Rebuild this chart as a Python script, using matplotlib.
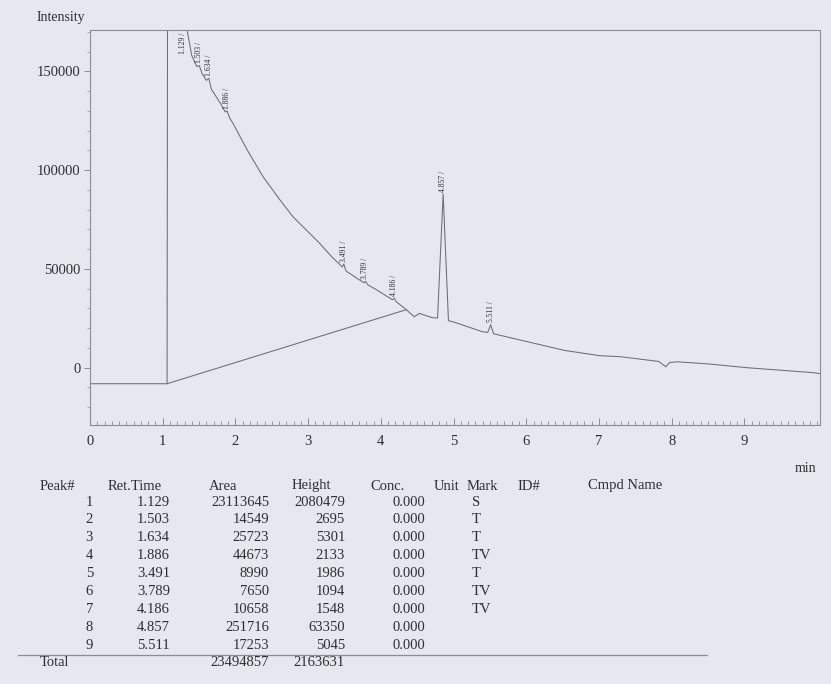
import numpy as np
import matplotlib
matplotlib.use("Agg")
import matplotlib.pyplot as plt
from matplotlib.ticker import MultipleLocator

plt.rcParams['font.family'] = ['Liberation Serif', 'DejaVu Serif']

# ---- chromatogram trace ----
sig_t = [0.00, 1.06, 1.129, 1.33, 1.40, 1.47, 1.503, 1.54, 1.60, 1.634, 1.67,
         1.80, 1.86, 1.886, 1.92, 1.97, 2.16, 2.38, 2.61, 2.79, 2.97, 3.15,
         3.33, 3.40, 3.47, 3.491, 3.52, 3.70, 3.77, 3.789, 3.82, 3.94, 4.16,
         4.186, 4.21, 4.35, 4.46, 4.53, 4.71, 4.78, 4.857, 4.93, 4.99, 5.40,
         5.47, 5.511, 5.55, 6.07, 6.52, 7.01, 7.29, 7.82, 7.92, 7.97, 8.07,
         8.48, 9.04, 9.95, 10.04]
sig_y = [-8100, -8100, 2072000, 172000, 158000, 152500, 153000, 149000, 145500,
         146500, 141000, 133500, 129500, 130000, 126500, 123500, 110400, 96700,
         85100, 76500, 69900, 63300, 56000, 53500, 51000, 52500, 49000, 44600,
         43000, 43800, 42000, 39500, 34400, 35200, 33500, 29400, 25800, 27500,
         25300, 25200, 88000, 23800, 23300, 18200, 17900, 21800, 17200, 12700,
         8800, 6100, 5600, 3200, 500, 2600, 3000, 2000, 0, -2500, -3000]

# integration baseline drawn under the big front peak
base_t = [1.06, 4.35]
base_y = [-8100, 29400]

# ---- peak table ----
peak_no = [1, 2, 3, 4, 5, 6, 7, 8, 9]
ret_time = [1.129, 1.503, 1.634, 1.886, 3.491, 3.789, 4.186, 4.857, 5.511]
area = [23113645, 14549, 25723, 44673, 8990, 7650, 10658, 251716, 17253]
height = [2080479, 2695, 5301, 2133, 1986, 1094, 1548, 63350, 5045]
conc = [0.000] * 9
mark = ['S', 'T', 'T', 'TV', 'T', 'TV', 'TV', '', '']
total_area = 23494857
total_height = 2163631

x_ticks = [0, 1, 2, 3, 4, 5, 6, 7, 8, 9]
y_ticks = [0, 50000, 100000, 150000]

W, H = 831, 684
bg = '#e6e8ef'
ink = '#2e2e33'
linec = '#6a6d77'

fig = plt.figure(figsize=(W / 100, H / 100), dpi=100, facecolor=bg)

def fx(px):
    return px / W

def fy(py):
    return 1 - py / H

ax = fig.add_axes([fx(90), fy(425), fx(820) - fx(90), fy(30) - fy(425)])
ax.set_facecolor(bg)
ymin, ymax = -29000, 171000
ax.set_xlim(0, 10.04)
ax.set_ylim(ymin, ymax)

ax.plot(sig_t, sig_y, color=linec, lw=0.75)
ax.plot(base_t, base_y, color=linec, lw=0.75)

# peak labels
for t in ret_time:
    yv = np.interp(t, sig_t, sig_y)
    if yv > ymax * 0.95:
        ax.text(t + 0.15, ymax - 1500, f"{t:.3f} /", rotation=90, ha='center',
                va='top', fontsize=5.5, color=ink, clip_on=True)
    else:
        ax.text(t, yv + 1200, f"{t:.3f} /", rotation=90, ha='center',
                va='bottom', fontsize=5.5, color=ink)

for s in ax.spines.values():
    s.set_color('#8a8d96')
    s.set_linewidth(0.8)

ax.set_xticks(x_ticks)
ax.set_xticklabels([str(v) for v in x_ticks])
ax.xaxis.set_minor_locator(MultipleLocator(0.1))
ax.set_yticks(y_ticks)
ax.set_yticklabels([str(v) for v in y_ticks])
ax.yaxis.set_minor_locator(MultipleLocator(10000))
ax.tick_params(axis='x', which='major', direction='in', length=5, width=0.7,
               colors='#8a8d96', labelcolor=ink, labelsize=10.5, pad=7)
ax.tick_params(axis='x', which='minor', direction='in', length=3, width=0.6,
               colors='#8a8d96')
ax.tick_params(axis='y', which='major', direction='out', length=4, width=0.7,
               colors='#8a8d96', labelcolor=ink, labelsize=10.5, pad=3)
ax.tick_params(axis='y', which='minor', direction='out', length=2, width=0.5,
               colors='#8a8d96')

fig.text(fx(37), fy(18), "Intensity", ha='left', va='center', fontsize=10, color=ink)
fig.text(fx(795), fy(468), "min", ha='left', va='center', fontsize=10, color=ink)

# ---- table ----
fs = 10.5
row_y0, row_dy = 502, 17.9
hy = 486
for label, x in [("Peak#", 40), ("Ret.Time", 108), ("Area", 209), ("Height", 292),
                 ("Conc.", 370), ("Unit", 434), ("Mark", 467), ("ID#", 517),
                 ("Cmpd Name", 588)]:
    fig.text(fx(x), fy(hy), label, ha='left', va='center', fontsize=fs, color=ink)

for i in range(len(peak_no)):
    y = fy(row_y0 + i * row_dy)
    fig.text(fx(93), y, str(peak_no[i]), ha='right', va='center', fontsize=fs, color=ink)
    fig.text(fx(170), y, f"{ret_time[i]:.3f}", ha='right', va='center', fontsize=fs, color=ink)
    fig.text(fx(269), y, str(area[i]), ha='right', va='center', fontsize=fs, color=ink)
    fig.text(fx(345), y, str(height[i]), ha='right', va='center', fontsize=fs, color=ink)
    fig.text(fx(425), y, f"{conc[i]:.3f}", ha='right', va='center', fontsize=fs, color=ink)
    if mark[i]:
        fig.text(fx(472), y, mark[i], ha='left', va='center', fontsize=fs, color=ink)

fig.add_artist(plt.Line2D([fx(18), fx(707)], [fy(655), fy(655)], color='#8a8d96', lw=0.9))
ty = fy(663)
fig.text(fx(40), ty, "Total", ha='left', va='center', fontsize=fs, color=ink)
fig.text(fx(269), ty, str(total_area), ha='right', va='center', fontsize=fs, color=ink)
fig.text(fx(345), ty, str(total_height), ha='right', va='center', fontsize=fs, color=ink)

fig.savefig("out.png", dpi=100, facecolor=bg)
